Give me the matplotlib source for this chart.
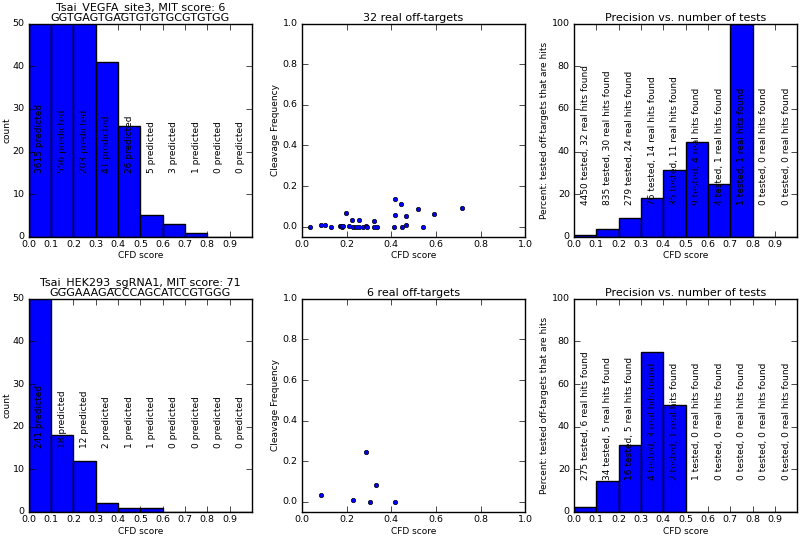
import matplotlib
matplotlib.use("Agg")
import matplotlib.pyplot as plt
import numpy as np

plt.style.use('classic')
plt.rcParams['font.family'] = ['DejaVu Sans']
plt.rcParams['font.size'] = 6.5
plt.rcParams['figure.facecolor'] = 'white'
plt.rcParams['savefig.facecolor'] = 'white'
plt.rcParams['xtick.major.pad'] = 2
plt.rcParams['ytick.major.pad'] = 3
plt.rcParams['xtick.labelsize'] = 6.8
plt.rcParams['ytick.labelsize'] = 6.8

bin_edges = [0.0, 0.1, 0.2, 0.3, 0.4, 0.5, 0.6, 0.7, 0.8, 0.9]
hist_ticks = [0.0, 0.1, 0.2, 0.3, 0.4, 0.5, 0.6, 0.7, 0.8, 0.9]

# Guide 1
title1 = "Tsai_VEGFA_site3, MIT score: 6\nGGTGAGTGAGTGTGTGCGTGTGG"
predicted1 = [3615, 556, 203, 41, 26, 5, 3, 1, 0, 0]
tested1 = [4450, 835, 279, 76, 35, 9, 4, 1, 0, 0]
hits1 = [32, 30, 24, 14, 11, 4, 1, 1, 0, 0]
cfd1 = [0.034, 0.085, 0.104, 0.128, 0.169, 0.176, 0.181, 0.184, 0.197, 0.212,
        0.225, 0.228, 0.240, 0.254, 0.254, 0.273, 0.287, 0.291, 0.324, 0.324,
        0.336, 0.413, 0.418, 0.418, 0.442, 0.448, 0.464, 0.464, 0.518, 0.542,
        0.593, 0.718]
freq1 = [0.0, 0.008, 0.008, 0.0, 0.005, 0.005, 0.0, 0.002, 0.068, 0.002,
         0.035, 0.0, 0.0, 0.035, 0.0, 0.0, 0.003, 0.0, 0.030, 0.0,
         0.0, 0.0, 0.137, 0.056, 0.110, 0.0, 0.051, 0.008, 0.085, 0.0,
         0.063, 0.094]

# Guide 2
title2 = "Tsai_HEK293_sgRNA1, MIT score: 71\nGGGAAAGACCCAGCATCCGTGGG"
predicted2 = [241, 18, 12, 2, 1, 1, 0, 0, 0, 0]
tested2 = [275, 34, 16, 4, 2, 1, 0, 0, 0, 0]
hits2 = [6, 5, 5, 3, 1, 0, 0, 0, 0, 0]
cfd2 = [0.084, 0.230, 0.287, 0.303, 0.330, 0.415]
freq2 = [0.035, 0.010, 0.243, 0.0, 0.081, 0.0]

fig = plt.figure(figsize=(8.0, 5.37), dpi=100)

lefts = [0.036, 0.3775, 0.7175]
bottoms = [0.559, 0.0466]
w, h = 0.279, 0.397
TFS = 8.0

guides = [
    (title1, predicted1, tested1, hits1, cfd1, freq1),
    (title2, predicted2, tested2, hits2, cfd2, freq2),
]

for row, (title, pred, tested, hits, cfd, freq) in enumerate(guides):
    b = bottoms[row]
    # histogram
    ax = fig.add_axes([lefts[0], b, w, h])
    ax.bar(bin_edges, pred, width=0.1, align='edge', color='b', edgecolor='k', linewidth=1)
    ax.set_xlim(0, 1)
    ax.set_ylim(0, 50)
    ax.set_xticks(hist_ticks)
    ax.set_yticks([0, 10, 20, 30, 40, 50])
    for x0, p in zip(bin_edges, pred):
        ax.text(x0 + 0.05, 15, f"{p} predicted", rotation=90, ha='center', va='bottom', fontsize=6.5)
    ax.set_xlabel("CFD score", labelpad=2)
    ax.set_ylabel("count", labelpad=1)
    ax.set_title(title, fontsize=TFS, linespacing=1.0, pad=2)

    # scatter
    ax = fig.add_axes([lefts[1], b, w, h])
    ax.scatter(cfd, freq, s=10, c='b', edgecolors='k', linewidths=0.5)
    ax.set_xlim(0, 1)
    ax.set_ylim(-0.05, 1.0)
    ax.set_xticks([0.0, 0.2, 0.4, 0.6, 0.8, 1.0])
    ax.set_yticks([0.0, 0.2, 0.4, 0.6, 0.8, 1.0])
    ax.set_xlabel("CFD score", labelpad=2)
    ax.set_ylabel("Cleavage Frequency", labelpad=2)
    ax.set_title(f"{len(cfd)} real off-targets", fontsize=TFS, pad=2)

    # precision
    ax = fig.add_axes([lefts[2], b, w, h])
    prec = [100.0 * hh / t if t > 0 else 0.0 for hh, t in zip(hits, tested)]
    ax.bar(bin_edges, prec, width=0.1, align='edge', color='b', edgecolor='k', linewidth=1)
    ax.set_xlim(0, 1)
    ax.set_ylim(0, 100)
    ax.set_xticks(hist_ticks)
    ax.set_yticks([0, 20, 40, 60, 80, 100])
    for x0, t, hh in zip(bin_edges, tested, hits):
        ax.text(x0 + 0.05, 15, f"{t} tested, {hh} real hits found", rotation=90,
                ha='center', va='bottom', fontsize=6.5)
    ax.set_xlabel("CFD score", labelpad=2)
    ax.set_ylabel("Percent: tested off-targets that are hits", labelpad=2)
    ax.set_title("Precision vs. number of tests", fontsize=TFS, pad=2)

fig.savefig("out.png", dpi=100)
